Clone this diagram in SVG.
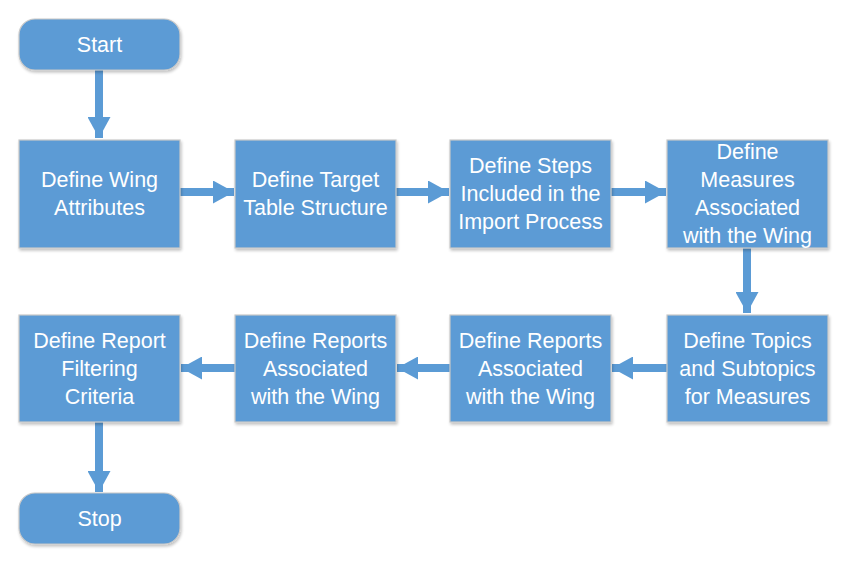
<svg xmlns="http://www.w3.org/2000/svg" width="848" height="563" viewBox="0 0 848 563">
<defs>
<marker id="ah" markerUnits="userSpaceOnUse" markerWidth="21" markerHeight="23" refX="21" refY="11.5" orient="auto">
<path d="M0,0 L21,11.5 L0,23 Z" fill="#5B9BD5"/>
</marker>
<filter id="sh" x="-10%" y="-10%" width="120%" height="130%">
<feGaussianBlur in="SourceAlpha" stdDeviation="1.5"/>
<feOffset dx="1" dy="2" result="b"/>
<feComponentTransfer><feFuncA type="linear" slope="0.25"/></feComponentTransfer>
<feMerge><feMergeNode/><feMergeNode in="SourceGraphic"/></feMerge>
</filter>
</defs>
<style>
.n{fill:#5B9BD5;stroke:#C8C8C8;stroke-width:1.2;filter:url(#sh)}
.t{font-family:"Liberation Sans",Arial,sans-serif;font-size:21.5px;fill:#FFFFFF;text-anchor:middle}
.c{stroke:#5B9BD5;stroke-width:8;fill:none;marker-end:url(#ah)}
</style>
<rect width="848" height="563" fill="#FFFFFF"/>
<g id="connectors">
<line class="c" x1="99" y1="70" x2="99" y2="138"/>
<line class="c" x1="180" y1="192" x2="234" y2="192"/>
<line class="c" x1="396" y1="192" x2="449" y2="192"/>
<line class="c" x1="611" y1="192" x2="666" y2="192"/>
<line class="c" x1="747" y1="248" x2="747" y2="313"/>
<line class="c" x1="667" y1="368" x2="612" y2="368"/>
<line class="c" x1="450" y1="368" x2="397" y2="368"/>
<line class="c" x1="235" y1="368" x2="181" y2="368"/>
<line class="c" x1="99" y1="422" x2="99" y2="492"/>
</g>
<g id="start"><rect class="n" x="19" y="19" width="161" height="51" rx="16"/><text class="t" x="99.5" y="51.5">Start</text></g>
<g id="wing-attributes"><rect class="n" x="19" y="140" width="161" height="108"/><text class="t" x="99.5" y="186.5">Define Wing</text><text class="t" x="99.5" y="214.5">Attributes</text></g>
<g id="target-table"><rect class="n" x="235" y="140" width="161" height="108"/><text class="t" x="315.5" y="186.5">Define Target</text><text class="t" x="315.5" y="214.5">Table Structure</text></g>
<g id="import-steps"><rect class="n" x="450" y="140" width="161" height="108"/><text class="t" x="530.5" y="172.5">Define Steps</text><text class="t" x="530.5" y="200.5">Included in the</text><text class="t" x="530.5" y="228.5">Import Process</text></g>
<g id="measures"><rect class="n" x="667" y="140" width="161" height="108"/><text class="t" x="747.5" y="158.5">Define</text><text class="t" x="747.5" y="186.5">Measures</text><text class="t" x="747.5" y="214.5">Associated</text><text class="t" x="747.5" y="242.5">with the Wing</text></g>
<g id="topics"><rect class="n" x="667" y="315" width="161" height="107"/><text class="t" x="747.5" y="347.5">Define Topics</text><text class="t" x="747.5" y="375.5">and Subtopics</text><text class="t" x="747.5" y="403.5">for Measures</text></g>
<g id="reports-2"><rect class="n" x="450" y="315" width="161" height="107"/><text class="t" x="530.5" y="347.5">Define Reports</text><text class="t" x="530.5" y="375.5">Associated</text><text class="t" x="530.5" y="403.5">with the Wing</text></g>
<g id="reports-1"><rect class="n" x="235" y="315" width="161" height="107"/><text class="t" x="315.5" y="347.5">Define Reports</text><text class="t" x="315.5" y="375.5">Associated</text><text class="t" x="315.5" y="403.5">with the Wing</text></g>
<g id="filtering"><rect class="n" x="19" y="315" width="161" height="107"/><text class="t" x="99.5" y="347.5">Define Report</text><text class="t" x="99.5" y="375.5">Filtering</text><text class="t" x="99.5" y="403.5">Criteria</text></g>
<g id="stop"><rect class="n" x="19" y="493" width="161" height="51" rx="16"/><text class="t" x="99.5" y="525.5">Stop</text></g>
</svg>
